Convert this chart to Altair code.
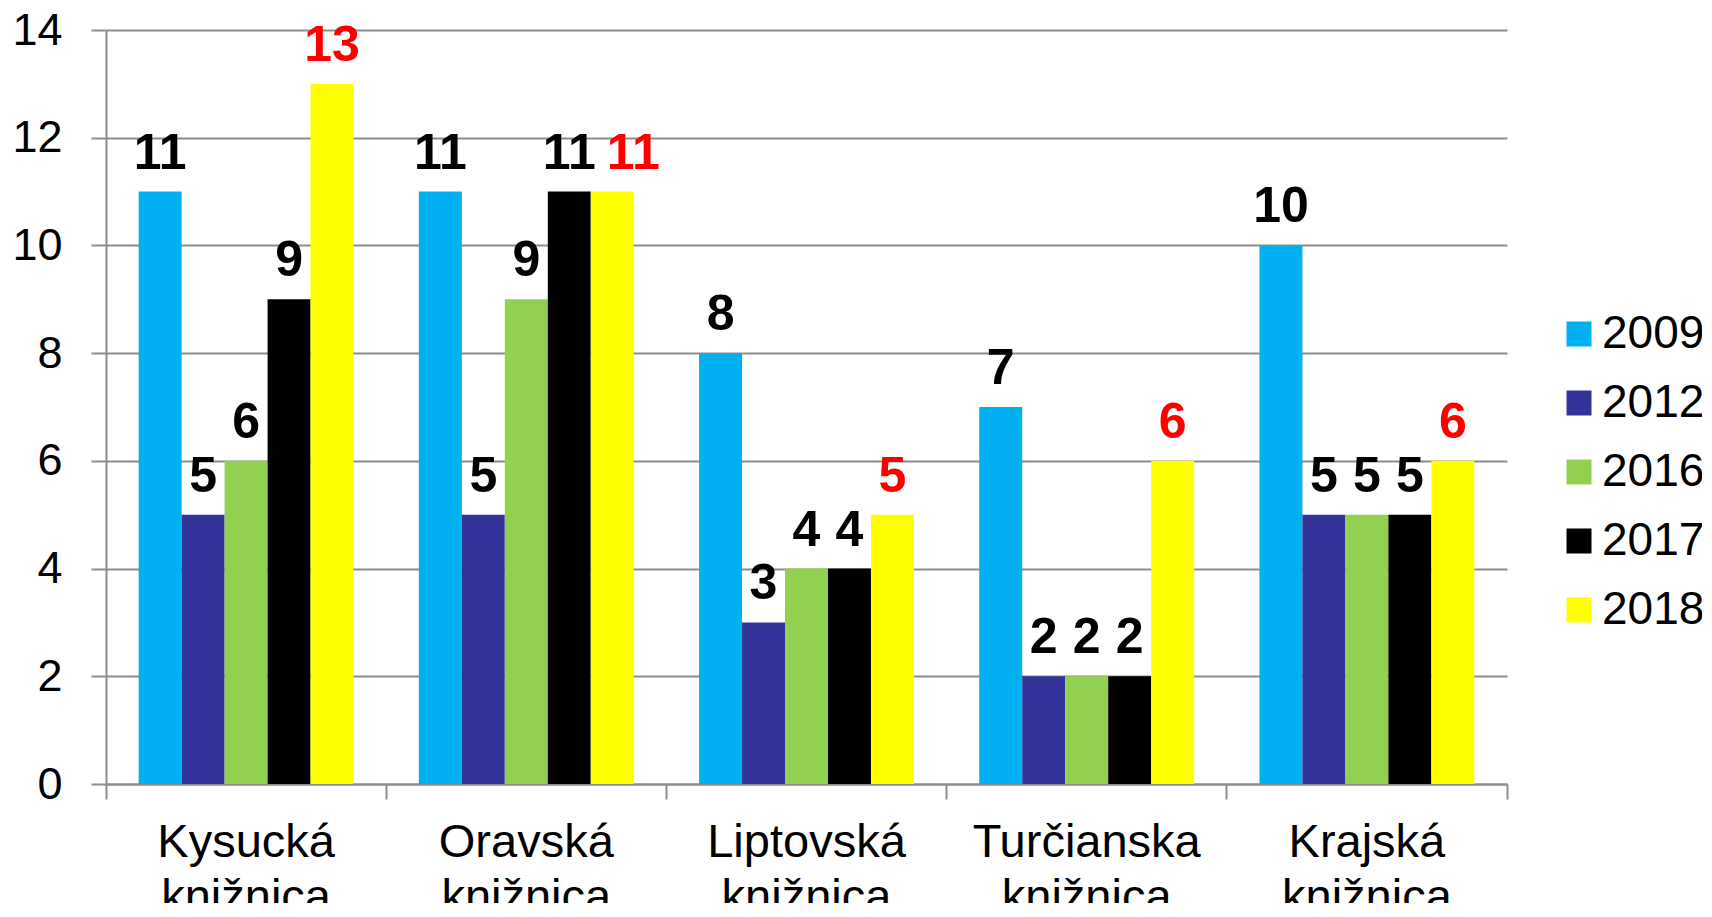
import altair as alt
import pandas as pd

categories = ["Kysucká\nknižnica", "Oravská\nknižnica", "Liptovská\nknižnica",
              "Turčianska\nknižnica", "Krajská\nknižnica"]
years = ["2009", "2012", "2016", "2017", "2018"]
v2009 = [11, 11, 8, 7, 10]
v2012 = [5, 5, 3, 2, 5]
v2016 = [6, 9, 4, 2, 5]
v2017 = [9, 11, 4, 2, 5]
v2018 = [13, 11, 5, 6, 6]
colors = ["#00B0F0", "#333399", "#92D050", "#000000", "#FFFF00"]
y_ticks = [0, 2, 4, 6, 8, 10, 12, 14]

rows = []
for yr, vals in zip(years, [v2009, v2012, v2016, v2017, v2018]):
    for c, v in zip(categories, vals):
        rows.append({"kniznica": c, "rok": yr, "pocet": v})
df = pd.DataFrame(rows)

FONT = "Liberation Sans"
GRID = "#8C8C8C"
W, H = 1401, 754

x = alt.X(
    "kniznica:N", sort=categories, title=None,
    scale=alt.Scale(paddingInner=0, paddingOuter=0),
    axis=alt.Axis(bandPosition=1, tickExtra=True,
                  labelAngle=0, labelExpr="split(datum.label, '\\n')",
                  labelFontSize=47, labelFont=FONT, labelColor="black",
                  labelPadding=20, labelLineHeight=55, labelBaseline="top",
                  labelLimit=0, labelOverlap=False,
                  tickSize=15, tickColor=GRID, tickWidth=2,
                  domainColor=GRID, domainWidth=2, grid=False),
)
xo = alt.XOffset("rok:N", sort=years,
                 scale=alt.Scale(paddingInner=0, paddingOuter=0.76))
y = alt.Y(
    "pocet:Q", title=None,
    scale=alt.Scale(domain=[0, 14], nice=False),
    axis=alt.Axis(values=y_ticks, grid=True, gridColor=GRID, gridWidth=2,
                  tickSize=15, tickColor=GRID, tickWidth=2,
                  domainColor=GRID, domainWidth=2,
                  labelFontSize=45, labelFont=FONT, labelPadding=29,
                  labelColor="black"),
)

bars = alt.Chart().mark_bar().encode(
    x=x, xOffset=xo, y=y,
    color=alt.Color(
        "rok:N", sort=years,
        scale=alt.Scale(domain=years, range=colors),
        legend=alt.Legend(orient="none", legendX=1450, legendY=281, title=None,
                          symbolType="square", symbolSize=625,
                          symbolStrokeWidth=0, symbolOpacity=1,
                          labelFontSize=46, labelFont=FONT, labelColor="black",
                          labelOffset=0, labelLimit=0, rowPadding=23, padding=0),
    ),
)

label_color = alt.condition("datum.rok == '2018'", alt.value("#FF0000"), alt.value("#000000"))
crowded = "datum.rok == '2018' && datum.pocet == 11"

labels = alt.Chart().mark_text(
    dy=-23, baseline="alphabetic", fontSize=50, fontWeight="bold", font=FONT
).encode(
    x=x, xOffset=xo, y=y, text=alt.Text("pocet:Q"), color=label_color,
).transform_filter("!(" + crowded + ")")

labels_shifted = alt.Chart().mark_text(
    dy=-23, dx=21, baseline="alphabetic", fontSize=50, fontWeight="bold", font=FONT
).encode(
    x=x, xOffset=xo, y=y, text=alt.Text("pocet:Q"), color=label_color,
).transform_filter(crowded)

chart = alt.layer(bars, labels, labels_shifted, data=df).properties(
    width=W, height=H,
    autosize=alt.AutoSizeParams(type="none"),
    padding={"left": 98, "top": 22, "right": 195, "bottom": 119},
).configure_view(stroke=None)

chart.save("out.html", embed_options={"renderer": "svg", "actions": False})
